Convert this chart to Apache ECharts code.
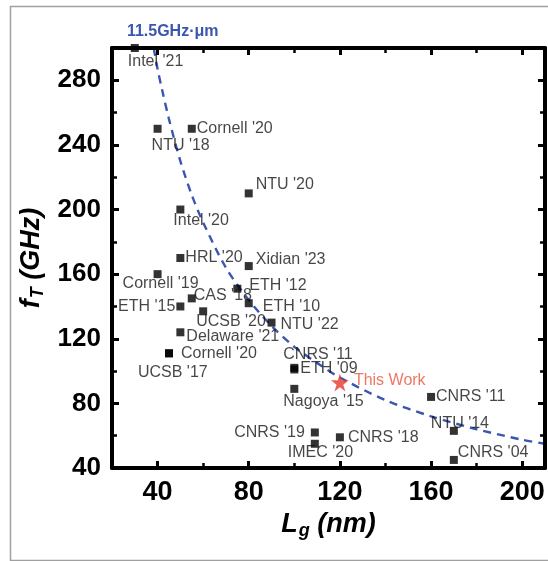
<!DOCTYPE html>
<html><head><meta charset="utf-8">
<script src="https://cdn.jsdelivr.net/npm/echarts@6/dist/echarts.min.js"></script>
<style>html,body{margin:0;padding:0;background:#fff}#c{width:548px;height:561px}</style>
</head><body><div id="c"></div>
<script>
// ---- data ----
const names = ["Intel '21","NTU '18","Cornell '20","NTU '20","Intel '20","HRL '20","Xidian '23","Cornell '19","CAS '18","ETH '15","ETH '12","ETH '10","UCSB '20","NTU '22","Delaware '21","Cornell '20","UCSB '17","CNRS '11","ETH '09","Nagoya '15","CNRS '11","NTU '14","CNRS '04","CNRS '19","IMEC '20","CNRS '18"];
const lg = [30,40,55,80,50,50,80,40,55,50,75,80,60,90,50,45,45,100,100,100,160,170,170,109,109,120];
const ft = [300,250,250,210,200,170,165,160,145,140,151,142,137,130,124,111,111,102,101,89,84,63,45,62,55,59];
const workName = ["This Work"];
const workLg = [120];
const workFt = [93];
// guide line fT*Lg = 11.5 GHz·µm
const curveLg = [38.3,40,42,45,50,55,60,70,80,90,100,110,120,140,160,180,200,210];
const curveFt = [300,287,274,256,230,209,192,164,144,128,115,105,96,82,72,64,57.5,55];
const curveName = "11.5GHz·μm";
const xTicks = [40,80,120,160,200];
const xMinor = [60,100,140,180];
const yTicks = [40,80,120,160,200,240,280];
const yMinor = [60,100,140,180,220,260];

// ---- label layout (px offsets from marker centre) ----
const labelLayout = [[-7,14,'left'],[-6,17,'left'],[5,0,'left'],[7,-9,'left'],[-7,11,'left'],[5,0,'left'],[7,-6,'left'],[-35,9,'left'],[2,-3,'left'],[-5,0,'right'],[12,-3,'left'],[14,3,'left'],[-7,10,'left'],[9,2,'left'],[6,4,'left'],[12,0,'left'],[-31,19,'left'],[-11,-13,'left'],[6,-1,'left'],[-11,13,'left'],[5,0,'left'],[-23,-7,'left'],[4,-7,'left'],[-10,0,'right'],[-27,9,'left'],[8,0,'left']];

const FONT = 'Liberation Sans, Arial, Helvetica, sans-serif';
const SQ = 8;
const pts = names.map((n,i)=>({
  name:n, value:[lg[i],ft[i]],
  label:{show:true, formatter:n, position:[SQ/2+labelLayout[i][0], SQ/2+labelLayout[i][1]], align:labelLayout[i][2], verticalAlign:'middle'}
}));
const curve = curveLg.map((x,i)=> i===0 ? {value:[x,curveFt[i]], label:{show:true, formatter:curveName, position:'top', offset:[19,-3], color:'#3a56b0', fontWeight:'bold', fontSize:16, fontFamily:FONT}} : [x,curveFt[i]]);

function xAx(pos, ticks, len, w, showLine, showLabel, extra){
  return Object.assign({type:'value', min:20, max:210, position:pos, gridIndex:0,
    axisLine:{show:showLine, onZero:false, lineStyle:{color:'#000', width:4}},
    axisTick:{show:true, inside:true, length:len, customValues:ticks, lineStyle:{color:'#000', width:w}},
    axisLabel:{show:showLabel, customValues:ticks, fontSize:27, fontWeight:'bold', color:'#000', margin:11, fontFamily:FONT},
    splitLine:{show:false}}, extra||{});
}
function yAx(pos, ticks, len, w, showLine, showLabel, extra){
  return Object.assign({type:'value', min:40, max:300, position:pos, gridIndex:0,
    axisLine:{show:showLine, onZero:false, lineStyle:{color:'#000', width:4}},
    axisTick:{show:true, inside:true, length:len, customValues:ticks, lineStyle:{color:'#000', width:w}},
    axisLabel:{show:showLabel, customValues:ticks, fontSize:26, fontWeight:'bold', color:'#000', margin:11, fontFamily:FONT},
    splitLine:{show:false}}, extra||{});
}
const titleRich = {
  m:{fontSize:27, fontWeight:'bold', fontStyle:'italic', color:'#000', fontFamily:FONT, lineHeight:30},
  s:{fontSize:18, fontWeight:'bold', fontStyle:'italic', color:'#000', fontFamily:FONT, lineHeight:30, verticalAlign:'bottom', padding:[0,0,0,1]}
};

const chart = echarts.init(document.getElementById('c'), null, {renderer:'canvas'});
chart.setOption({
  animation:false,
  backgroundColor:'#fff',
  graphic:[{type:'rect', left:8, top:4, shape:{width:600, height:554}, style:{fill:'none', stroke:'#a0a0a0', lineWidth:1.5}, silent:true}],
  grid:{left:112, right:3, top:48, bottom:93, containLabel:false},
  xAxis:[
    xAx('bottom', xTicks, 7, 3, true, true, {name:'{m|L}{s|g}{m| (nm)}', nameLocation:'middle', nameGap:42, nameTextStyle:{rich:titleRich}, z:10}),
    xAx('bottom', xMinor, 5, 2.5, false, false, {z:10}),
    xAx('top', xTicks, 7, 3, true, false, {z:10}),
    xAx('top', xMinor, 5, 2.5, false, false, {z:10})
  ],
  yAxis:[
    yAx('left', yTicks, 7, 3, true, true, {name:'{m|f}{s|T}{m| (GHz)}', nameLocation:'middle', nameGap:60, nameRotate:90, nameTextStyle:{rich:titleRich}, z:10}),
    yAx('left', yMinor, 5, 2.5, false, false, {z:10}),
    yAx('right', yTicks, 7, 3, true, false, {z:10}),
    yAx('right', yMinor, 5, 2.5, false, false, {z:10})
  ],
  series:[
    {type:'line', data:curve, xAxisIndex:0, yAxisIndex:0, showSymbol:true, symbol:'circle', symbolSize:0, smooth:0.3, clip:true,
     lineStyle:{color:'#3a56b0', width:2.4, type:[8,6]}, z:3},
    {type:'scatter', data:pts, xAxisIndex:0, yAxisIndex:0, symbol:'rect', symbolSize:SQ, clip:false,
     itemStyle:{color:'#000'}, label:{fontSize:16, color:'#161616', fontFamily:FONT}, z:4},
    {type:'scatter', data:workLg.map((x,i)=>({name:workName[i], value:[x,workFt[i]]})), xAxisIndex:0, yAxisIndex:0,
     symbol:'path://M50,0 L61,35 L98,35 L68,57 L79,91 L50,70 L21,91 L32,57 L2,35 L39,35 Z', symbolSize:18,
     itemStyle:{color:'#e8372a'},
     label:{show:true, formatter:'{b}', position:[9+14,9-2], align:'left', verticalAlign:'middle', fontSize:16, color:'#e8553f', fontFamily:FONT}, z:5}
  ]
});
</script></body></html>
